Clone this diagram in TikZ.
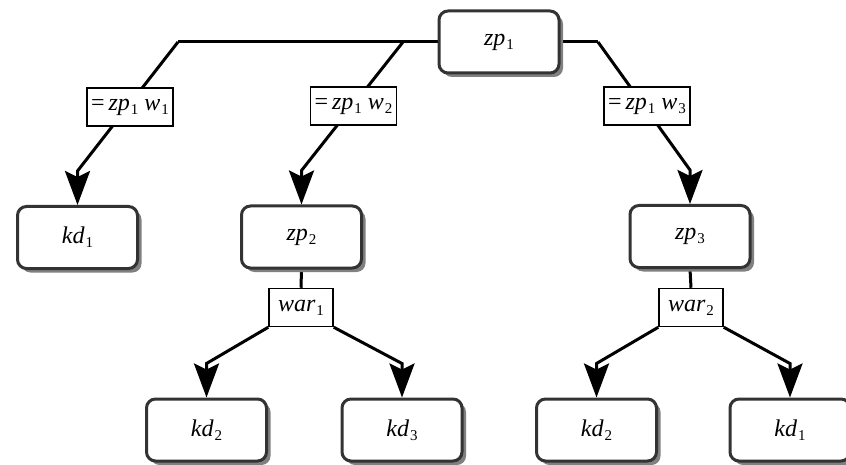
\documentclass[tikz,border=0pt]{standalone}
\usepackage{fontspec}
\setmainfont{Liberation Serif}
\usetikzlibrary{arrows.meta,shadows,calc,backgrounds}

% italic name with an upright, lowered index
\newcommand\mysub[2]{\textit{#1}\kern1pt\raisebox{-4pt}{\fontsize{15}{15}\selectfont #2}}

\tikzset{
  box/.style={rectangle, rounded corners=9pt, draw=black!80, line width=3pt,
    fill=white, minimum width=120pt, minimum height=62pt,
    font=\fontsize{24}{28}\selectfont,
    drop shadow={shadow xshift=4pt, shadow yshift=-4pt, fill=black!50, opacity=1}},
  lab/.style={rectangle, draw=black, line width=1.5pt, fill=white,
    minimum height=38pt, inner xsep=4pt, inner ysep=2pt,
    font=\fontsize{24}{28}\selectfont},
  warlab/.style={lab, minimum width=64pt},
  conn/.style={line width=3pt, draw=black},
  arr/.style={conn, -{Stealth[length=34pt, width=25pt, inset=6pt]}},
}

\begin{document}
\begin{tikzpicture}[x=1pt, y=-1pt]
\useasboundingbox (0,0) rectangle (846,465);

% decision / leaf boxes
\node[box] (zp1) at (499,42)    {\mysub{zp}{1}};
\node[box] (kdA) at (77.5,237.5) {\mysub{kd}{1}};
\node[box] (zp2) at (301.5,237) {\mysub{zp}{2}};
\node[box] (zp3) at (690,236.5) {\mysub{zp}{3}};
\node[box] (kdB) at (206.5,430) {\mysub{kd}{2}};
\node[box] (kdC) at (402,430)   {\mysub{kd}{3}};
\node[box] (kdD) at (596.5,430) {\mysub{kd}{2}};
\node[box] (kdE) at (790,430)   {\mysub{kd}{1}};

% edge labels
\node[lab] (l1) at (130,107) {=\,\mysub{zp}{1} \mysub{w}{1}};
\node[lab] (l2) at (353.5,106) {=\,\mysub{zp}{1} \mysub{w}{2}};
\node[lab] (l3) at (647,106)   {=\,\mysub{zp}{1} \mysub{w}{3}};
\node[warlab] (w1) at (301,307.5) {\mysub{war}{1}};
\node[warlab] (w2) at (691,307.5) {\mysub{war}{2}};

% branch points on the top bar
\coordinate (jL) at (178,42);
\coordinate (jM) at (403,42);
\coordinate (jR) at (598,42);

\begin{scope}[on background layer]
  \draw[conn] (zp1.west) -- (jL);
  \draw[conn] (zp1.east) -- (jR);
  \draw[arr] (jL) -- ($(kdA.north)+(0,-34)$) -- (kdA.north);
  \draw[arr] (jM) -- ($(zp2.north)+(0,-34)$) -- (zp2.north);
  \draw[arr] (jR) -- ($(zp3.north)+(0,-34)$) -- (zp3.north);
  \draw[conn] (zp2.south) -- (w1.north);
  \draw[conn] (zp3.south) -- (w2.north);
  \draw[arr] (w1.south west) -- ($(kdB.north)+(0,-34)$) -- (kdB.north);
  \draw[arr] (w1.south east) -- ($(kdC.north)+(0,-34)$) -- (kdC.north);
  \draw[arr] (w2.south west) -- ($(kdD.north)+(0,-34)$) -- (kdD.north);
  \draw[arr] (w2.south east) -- ($(kdE.north)+(0,-34)$) -- (kdE.north);
\end{scope}
\end{tikzpicture}
\end{document}
